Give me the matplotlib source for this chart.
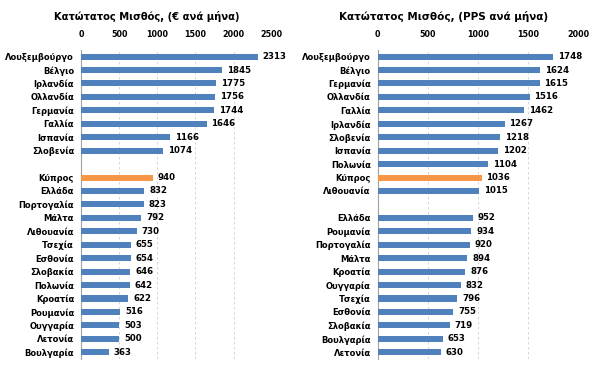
import matplotlib
matplotlib.use("Agg")
import matplotlib.pyplot as plt

# Left chart: minimum wage, EUR per month
eur_top = ["Λουξεμβούργο", "Βέλγιο", "Ιρλανδία", "Ολλανδία", "Γερμανία", "Γαλλία", "Ισπανία", "Σλοβενία"]
eur_top_vals = [2313, 1845, 1775, 1756, 1744, 1646, 1166, 1074]
eur_bot = ["Κύπρος", "Ελλάδα", "Πορτογαλία", "Μάλτα", "Λιθουανία", "Τσεχία", "Εσθονία", "Σλοβακία",
           "Πολωνία", "Κροατία", "Ρουμανία", "Ουγγαρία", "Λετονία", "Βουλγαρία"]
eur_bot_vals = [940, 832, 823, 792, 730, 655, 654, 646, 642, 622, 516, 503, 500, 363]

# Right chart: minimum wage, PPS per month
pps_top = ["Λουξεμβούργο", "Βέλγιο", "Γερμανία", "Ολλανδία", "Γαλλία", "Ιρλανδία", "Σλοβενία",
           "Ισπανία", "Πολωνία", "Κύπρος", "Λιθουανία"]
pps_top_vals = [1748, 1624, 1615, 1516, 1462, 1267, 1218, 1202, 1104, 1036, 1015]
pps_bot = ["Ελλάδα", "Ρουμανία", "Πορτογαλία", "Μάλτα", "Κροατία", "Ουγγαρία", "Τσεχία",
           "Εσθονία", "Σλοβακία", "Βουλγαρία", "Λετονία"]
pps_bot_vals = [952, 934, 920, 894, 876, 832, 796, 755, 719, 653, 630]

highlight = "Κύπρος"
blue = "#4F81BD"
orange = "#F79646"

plt.rcParams['font.family'] = ['DejaVu Sans']

fig = plt.figure(figsize=(6, 3.72), dpi=100)

def draw(ax, top, top_vals, bot, bot_vals, xmax):
    cats = top + bot
    vals = top_vals + bot_vals
    pos = list(range(len(top))) + [len(top) + 1 + i for i in range(len(bot))]
    colors = [orange if c == highlight else blue for c in cats]
    ax.barh(pos, vals, height=0.45, color=colors, zorder=3)
    ax.set_ylim(len(cats) + 0.5, -0.5)
    ax.set_xlim(0, xmax)
    ax.set_yticks(pos)
    ax.set_yticklabels(cats, fontsize=6, fontweight='bold')
    ax.xaxis.tick_top()
    ax.set_xticks(range(0, xmax + 1, 500))
    ax.tick_params(axis='x', labelsize=5.8, length=0, pad=8)
    ax.tick_params(axis='y', length=0, pad=5)
    for lbl in ax.get_xticklabels():
        lbl.set_fontweight('bold')
    ax.grid(axis='x', color='#d0d0d0', linestyle=(0, (3, 3)), linewidth=0.6, zorder=0)
    for s in ['top', 'right', 'bottom']:
        ax.spines[s].set_visible(False)
    ax.spines['left'].set_color('#a0a0a0')
    ax.spines['left'].set_linewidth(0.8)
    for p, v in zip(pos, vals):
        ax.annotate(str(v), (v, p), xytext=(3.5, 0), textcoords='offset points',
                    va='center', ha='left', fontsize=6.2, fontweight='bold')

ax1 = fig.add_axes([0.135, 0.035, 0.318, 0.831])
draw(ax1, eur_top, eur_top_vals, eur_bot, eur_bot_vals, 2500)
ax2 = fig.add_axes([0.6295, 0.035, 0.334, 0.831])
draw(ax2, pps_top, pps_top_vals, pps_bot, pps_bot_vals, 2000)

fig.text(0.245, 1 - 17 / 372, "Κατώτατος Μισθός, (€ ανά μήνα)", ha='center', va='center',
         fontsize=7.2, fontweight='bold')
fig.text(0.74, 1 - 17 / 372, "Κατώτατος Μισθός, (PPS ανά μήνα)", ha='center', va='center',
         fontsize=7.5, fontweight='bold')

fig.savefig("out.png", dpi=100)
